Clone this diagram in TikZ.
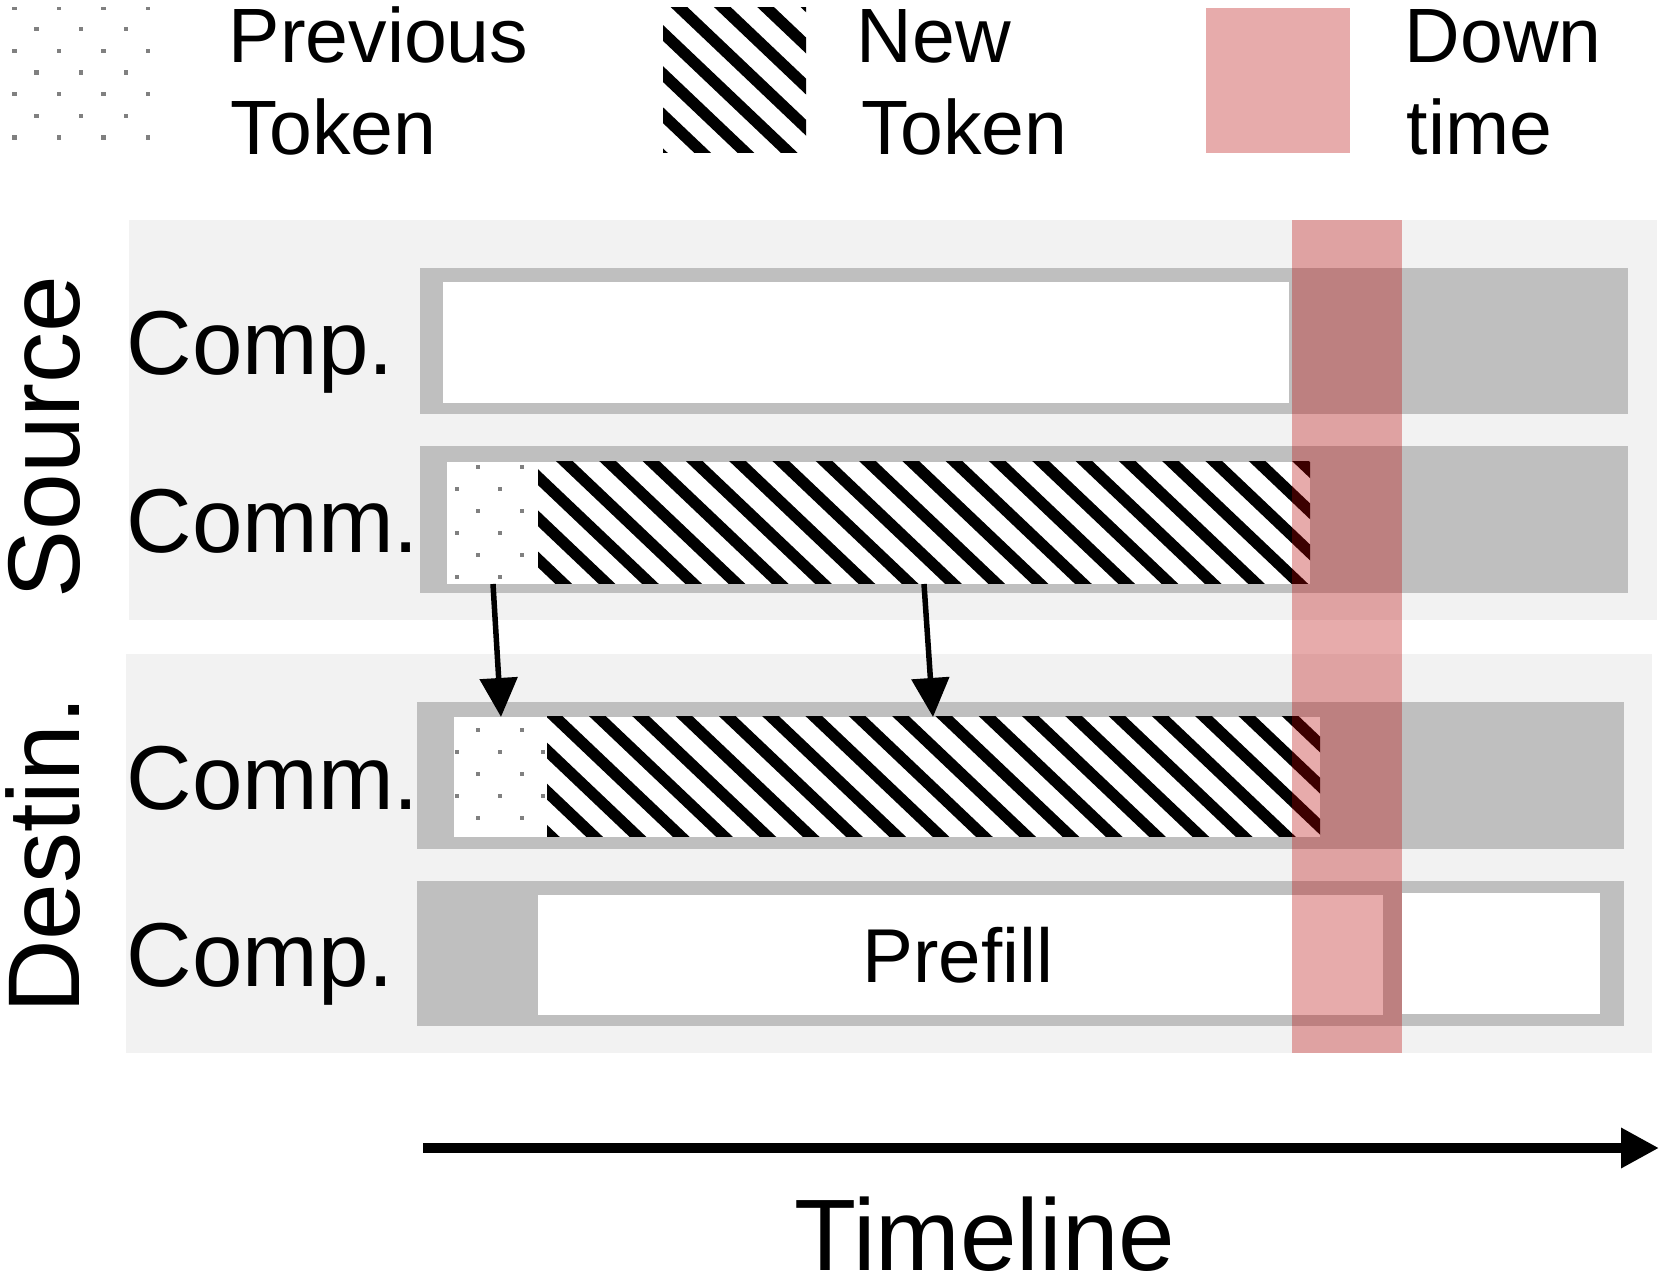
\documentclass[tikz,border=0pt]{standalone}
\usepackage{fontspec}
\setmainfont{Liberation Sans}
\usetikzlibrary{arrows.meta}
\definecolor{panelgray}{HTML}{F2F2F2}
\definecolor{bargray}{HTML}{BFBFBF}
\definecolor{dotgray}{HTML}{808080}
\definecolor{downred}{RGB}{185,0,0}
\begin{document}
\begin{tikzpicture}[x=0.01cm,y=-0.01cm,
  panel/.style={fill=panelgray},
  barbg/.style={fill=bargray},
  slot/.style={fill=white},
  stripe/.style={line width=0.115cm, draw=black},
  dotsq/.style={fill=dotgray},
  downtime/.style={fill=downred, fill opacity=0.33},
  legendtext/.style={inner sep=0pt, anchor=base west, font=\fontsize{21.9}{26}\selectfont},
  rowlabel/.style={inner sep=0pt, anchor=base west, font=\fontsize{25.8}{30}\selectfont},
  sidelabel/.style={inner sep=0pt, anchor=base, rotate=90, font=\fontsize{29}{34}\selectfont},
  xfer/.style={line width=0.055cm, -{Triangle[length=0.39cm,width=0.37cm]}},
  timeaxis/.style={line width=0.1cm, -{Triangle[length=0.38cm,width=0.38cm]}},
]
\useasboundingbox[fill=white] (0,0) rectangle (1661,1280);

% ---------------- legend ----------------
\begin{scope}
  \clip (10,8) rectangle (153,153);
  \foreach \yy in {7.5,50.9,94.3,137.7}
    \foreach \xx in {14.3,58.9,103.5,148.1}
      \fill[dotsq] (\xx-2.2,\yy-2.2) rectangle ++(4.4,4.4);
  \foreach \yy in {29.2,72.6,116.0}
    \foreach \xx in {36.6,81.2,125.8}
      \fill[dotsq] (\xx-2.2,\yy-2.2) rectangle ++(4.4,4.4);
\end{scope}
\node[legendtext] (prevA) at (228,63) {Previous};
\node[legendtext] (prevB) at (230,155) {Token};

\begin{scope}
  \clip (663,8) rectangle (806,153);
  \foreach \k in {-4,...,3}
    \draw[stripe] ({680+43.3*\k-60},{8-57}) -- ++(260,247);
\end{scope}
\node[legendtext] (newA) at (856,63) {New};
\node[legendtext] (newB) at (861,155) {Token};

\fill[downtime] (1206,8) rectangle (1350,153);
\node[legendtext] (downA) at (1404,63) {Down};
\node[legendtext] (downB) at (1406,155) {time};

% ---------------- panels ----------------
\fill[panel] (129,220) rectangle (1657,620);
\fill[panel] (126,654) rectangle (1652,1053);

\node[sidelabel] (srcL) at (79,437) {Source};
\node[sidelabel] (dstL) at (79,855) {Destin.};

\node[rowlabel] (srcCompL) at (126,375) {Comp.};
\node[rowlabel] (srcCommL) at (126,553) {Comm.};
\node[rowlabel] (dstCommL) at (126,810) {Comm.};
\node[rowlabel] (dstCompL) at (126,987) {Comp.};

% Source computation
\fill[barbg] (420,268) rectangle (1628,414);
\fill[slot] (443,282) rectangle (1289,403);

% Source communication
\fill[barbg] (420,446) rectangle (1628,593);
\fill[slot] (447,462) rectangle (1310,584);
\begin{scope}
  \clip (447,462) rectangle (538,584);
  \foreach \yy in {467,511,555}
    \foreach \xx in {478,522}
      \fill[dotsq] (\xx-2.2,\yy-2.2) rectangle ++(4.4,4.4);
  \foreach \yy in {489,533,577}
    \foreach \xx in {457,500}
      \fill[dotsq] (\xx-2.2,\yy-2.2) rectangle ++(4.4,4.4);
\end{scope}
\begin{scope}
  \clip (538,462) rectangle (1310,584);
  \foreach \k in {-4,...,19}
    \draw[stripe] ({522+43.3*\k-60},{462-57}) -- ++(260,247);
\end{scope}

% Destination communication
\fill[barbg] (417,702) rectangle (1624,849);
\fill[slot] (454,717) rectangle (1320,837);
\begin{scope}
  \clip (454,717) rectangle (547,837);
  \foreach \yy in {730,774,818}
    \foreach \xx in {478,522}
      \fill[dotsq] (\xx-2.2,\yy-2.2) rectangle ++(4.4,4.4);
  \foreach \yy in {752,796}
    \foreach \xx in {457,500,543}
      \fill[dotsq] (\xx-2.2,\yy-2.2) rectangle ++(4.4,4.4);
\end{scope}
\begin{scope}
  \clip (547,717) rectangle (1320,837);
  \foreach \k in {-4,...,19}
    \draw[stripe] ({555+43.3*\k-60},{717-57}) -- ++(260,247);
\end{scope}

% Destination computation
\fill[barbg] (417,881) rectangle (1624,1026);
\fill[slot] (538,895) rectangle (1383,1015);
\fill[slot] (1402,893) rectangle (1600,1014);
\node[inner sep=0pt, anchor=base, font=\fontsize{21.7}{26}\selectfont] (prefill) at (958,983) {Prefill};

% transfers
\coordinate (a1s) at (493,584);
\coordinate (a1e) at (501,717);
\coordinate (a2s) at (924,584);
\coordinate (a2e) at (933,717);
\draw[xfer] (a1s) -- (a1e);
\draw[xfer] (a2s) -- (a2e);

% downtime column
\fill[downtime] (1292,220) rectangle (1402,1053);

% timeline
\coordinate (tl0) at (423,1148);
\coordinate (tl1) at (1659,1148);
\draw[timeaxis] (tl0) -- (tl1);
\node[inner sep=0pt, anchor=base, font=\fontsize{28.9}{34}\selectfont] (timeL) at (985,1270) {Timeline};
\end{tikzpicture}
\end{document}
